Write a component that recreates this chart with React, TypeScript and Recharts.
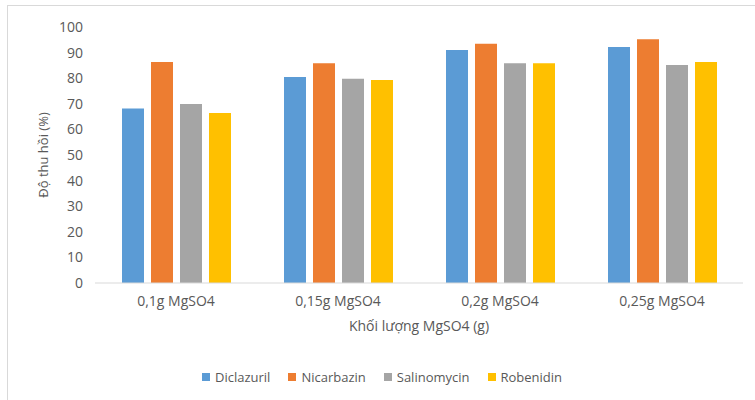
import { BarChart, Bar, XAxis, YAxis, Legend } from "recharts";

// Recovery (%) per MgSO4 amount for each compound
const categories = ["0,1g MgSO4", "0,15g MgSO4", "0,2g MgSO4", "0,25g MgSO4"];
const diclazuril = [68.2, 80.5, 91.0, 92.2];
const nicarbazin = [86.3, 85.8, 93.5, 95.2];
const salinomycin = [69.9, 79.8, 85.8, 85.2];
const robenidin = [66.4, 79.3, 85.8, 86.3];
const yTicks = [0, 10, 20, 30, 40, 50, 60, 70, 80, 90, 100];

const series = [
  { key: "Diclazuril", values: diclazuril, color: "#5b9bd5" },
  { key: "Nicarbazin", values: nicarbazin, color: "#ed7d31" },
  { key: "Salinomycin", values: salinomycin, color: "#a5a5a5" },
  { key: "Robenidin", values: robenidin, color: "#ffc000" },
];
const seriesOrder = series.map((s) => s.key);

const data = categories.map((name, i) => {
  const row: Record<string, string | number> = { name };
  series.forEach((s) => {
    row[s.key] = s.values[i];
  });
  return row;
});

const FONT = "'Open Sans', sans-serif";
const TEXT = "#595959";

// keep legend entries in series order (recharts sorts them by name)
const LegendContent = (props: any) => {
  const items = [...(props.payload || [])].sort(
    (a: any, b: any) => seriesOrder.indexOf(a.value) - seriesOrder.indexOf(b.value),
  );
  return (
    <div
      style={{
        display: "flex",
        gap: 18,
        height: 20,
        alignItems: "center",
        fontFamily: FONT,
        fontSize: 13,
        color: TEXT,
      }}
    >
      {items.map((item: any) => (
        <div key={item.value} style={{ display: "flex", alignItems: "center" }}>
          <span
            style={{
              width: 8,
              height: 8,
              background: item.color,
              marginRight: 5,
              display: "inline-block",
            }}
          />
          <span>{item.value}</span>
        </div>
      ))}
    </div>
  );
};

const App = () => {
  return (
    <div style={{ position: "absolute", left: 0, top: 0, width: 755, height: 400, background: "#fff" }}>
      <div
        style={{
          position: "absolute",
          left: 7,
          top: 5,
          width: 747,
          height: 394,
          borderTop: "1px solid #d9d9d9",
          borderLeft: "1px solid #d9d9d9",
        }}
      />
      <BarChart
        width={755}
        height={400}
        data={data}
        margin={{ top: 27, right: 12, bottom: 47, left: 0 }}
        barSize={22}
        barGap={7}
        style={{ position: "absolute", left: 0, top: 0 }}
      >
        <XAxis
          dataKey="name"
          height={50}
          axisLine={{ stroke: "#d9d9d9" }}
          tickLine={false}
          tickSize={0}
          tickMargin={13}
          tick={{ fill: TEXT, fontSize: 14, fontFamily: FONT }}
          label={{
            value: "Khối lượng MgSO4 (g)",
            position: "insideBottom",
            offset: 2,
            fill: TEXT,
            fontSize: 14,
            fontFamily: FONT,
          }}
        />
        <YAxis
          width={95}
          domain={[0, 100]}
          ticks={yTicks}
          interval={0}
          axisLine={false}
          tickLine={false}
          tickSize={6}
          tickMargin={6}
          tick={{ fill: TEXT, fontSize: 14, fontFamily: FONT }}
          label={{
            value: "Độ thu hồi (%)",
            angle: -90,
            position: "center",
            dx: -4,
            fill: TEXT,
            fontSize: 13,
            fontFamily: FONT,
          }}
        />
        <Legend
          verticalAlign="bottom"
          content={<LegendContent />}
          wrapperStyle={{ top: 367, bottom: "auto", left: 202, width: "auto" }}
        />
        {series.map((s) => (
          <Bar key={s.key} dataKey={s.key} fill={s.color} isAnimationActive={false} />
        ))}
      </BarChart>
    </div>
  );
};

export default App;
